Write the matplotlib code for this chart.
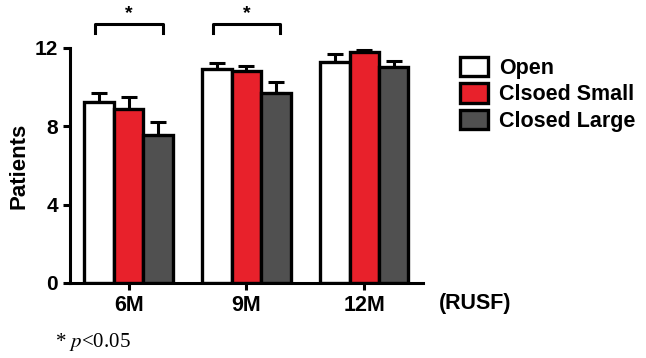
import numpy as np
import matplotlib
matplotlib.use('Agg')
import matplotlib.pyplot as plt

plt.rcParams['font.family'] = ['Liberation Sans', 'DejaVu Sans']
plt.rcParams['mathtext.fontset'] = 'stix'

months = ['6M', '9M', '12M']
groups = ['Open', 'Clsoed Small', 'Closed Large']
open_mean = [9.25, 10.9, 11.3]
open_err = [0.45, 0.35, 0.4]
small_mean = [8.9, 10.8, 11.8]
small_err = [0.6, 0.3, 0.1]
large_mean = [7.55, 9.7, 11.05]
large_err = [0.65, 0.55, 0.3]
colors = ['white', '#e8212b', '#505050']

fig = plt.figure(figsize=(6.46, 3.58), dpi=100)
ax = fig.add_axes([0.108, 0.21, 0.547, 0.656])

x = np.arange(len(months))
w = 0.25
means = [open_mean, small_mean, large_mean]
errs = [open_err, small_err, large_err]
for i in range(3):
    pos = x + (i - 1) * w
    ax.bar(pos, means[i], w, color=colors[i], edgecolor='black', linewidth=2.4,
           label=groups[i], zorder=2)
    ax.errorbar(pos, means[i], yerr=[np.zeros(3), errs[i]], fmt='none',
                ecolor='black', elinewidth=2.2, capsize=6, capthick=2.2, zorder=1)

# significance brackets
for k in [0, 1]:
    xl, xr = k - w * 1.15, k + w * 1.15
    ax.plot([xl, xl, xr, xr], [12.75, 13.25, 13.25, 12.75], color='black',
            lw=2.2, clip_on=False)
    ax.text(k, 13.3, '*', ha='center', va='bottom', fontsize=14,
            fontweight='bold', clip_on=False)

ax.set_xlim(-0.5, 2.5)
ax.set_ylim(0, 12)
ax.set_yticks([0, 4, 8, 12])
ax.set_xticks(x)
ax.set_xticklabels(months, fontweight='bold')
ax.set_yticklabels(['0', '4', '8', '12'], fontweight='bold')
ax.tick_params(axis='both', labelsize=15.5, width=2.2, length=5, direction='out')
ax.tick_params(axis='y', labelsize=15)
for s in ['top', 'right']:
    ax.spines[s].set_visible(False)
for s in ['left', 'bottom']:
    ax.spines[s].set_linewidth(2.2)
ax.set_ylabel('Patients', fontsize=16, fontweight='bold', labelpad=4)

ax.legend(loc='upper left', bbox_to_anchor=(0.698, 0.865), bbox_transform=fig.transFigure,
          frameon=False, prop={'size': 15.5, 'weight': 'bold'}, handlelength=1.3,
          handleheight=1.0, handletextpad=0.55, labelspacing=0.2, borderaxespad=0)

fig.text(0.735, 0.153, '(RUSF)', ha='center', va='center', fontsize=15.5, fontweight='bold')
fig.text(0.085, 0.045, '* $p$<0.05', ha='left', va='center', fontsize=15,
         fontweight='normal', family='Liberation Serif')

fig.savefig('out.png', dpi=100)
